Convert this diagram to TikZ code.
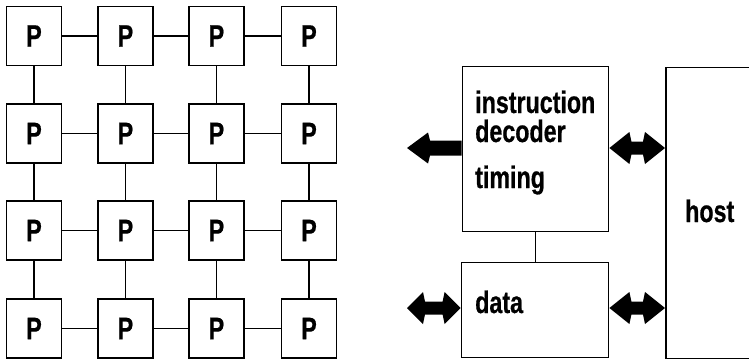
\documentclass[tikz,border=0pt]{standalone}
\usepackage{fontspec}
\setmainfont{Liberation Sans}[FakeStretch=0.75, BoldFeatures={FakeBold=0.6}]
\usetikzlibrary{calc}

% filled double-headed arrow from #1 (left) to #2 (right), head length #3
\newcommand\fatboth[3]{%
  \fill let \p1=#1, \p2=#2 in
    (\x1,\y1) -- (\x1+#3,\y1+16pt) -- (\x1+#3+2pt,\y1+6.5pt)
    -- (\x2-#3-2pt,\y1+6.5pt) -- (\x2-#3,\y1+16pt) -- (\x2,\y1)
    -- (\x2-#3,\y1-16pt) -- (\x2-#3-2pt,\y1-6.5pt)
    -- (\x1+#3+2pt,\y1-6.5pt) -- (\x1+#3,\y1-16pt) -- cycle;}

\begin{document}
\begin{tikzpicture}[x=1pt,y=-1pt,
  box/.style={draw, line width=1.8pt, rectangle, inner sep=0pt},
  pbox/.style={box, minimum width=55pt, minimum height=59pt,
    font=\fontsize{31}{31}\selectfont\bfseries},
  link/.style={line width=1.8pt},
  lbl/.style={anchor=base west, inner sep=0pt,
    font=\fontsize{31}{31}\selectfont\bfseries}]
\useasboundingbox (0,0) rectangle (749,362);

% processor array
\foreach \c/\x in {1/34,2/125.5,3/216.5,4/309}
  \foreach \r/\y in {1/36,2/133.5,3/230.5,4/328.5}
    \node[pbox] (p\r\c) at (\x,\y) {P};
\foreach \r in {1,...,4}
  \foreach \c/\n in {1/2,2/3,3/4}
    \draw[link] (p\r\c) -- (p\r\n);
\foreach \c in {1,...,4}
  \foreach \r/\n in {1/2,2/3,3/4}
    \draw[link] (p\r\c) -- (p\n\c);

% controller and host
\node[box, minimum width=146pt, minimum height=165pt] (instr) at (535.5,149) {};
\node[box, minimum width=147pt, minimum height=95pt] (data) at (535,310) {};
\node[box, minimum width=160pt, minimum height=291pt, anchor=north west] (host) at (665,66.5) {};
\draw[link] (instr.south) -- (instr.south |- data.north);

\node[lbl] (t1) at (475,113) {instruction};
\node[lbl] (t2) at (475,142) {decoder};
\node[lbl] (t3) at (475,188) {timing};
\node[lbl] (t4) at (475,313) {data};
\node[lbl] (t5) at (685,222) {host};

% broadcast arrow to the array
\coordinate (ctl) at (407,148);
\fill let \p1=(ctl), \p2=(instr.west |- ctl) in
  (\x1,\y1) -- (\x1+21pt,\y1+15.5pt) -- (\x1+23pt,\y1+7.5pt)
  -- (\x2,\y1+7.5pt) -- (\x2,\y1-7.5pt) -- (\x1+23pt,\y1-7.5pt)
  -- (\x1+21pt,\y1-15.5pt) -- cycle;

% data paths
\coordinate (din) at (407,308);
\fatboth{(instr.east |- ctl)}{(host.west |- ctl)}{20pt}
\fatboth{(din)}{([yshift=2pt]data.west)}{16pt}
\fatboth{([yshift=2pt]data.east)}{([yshift=2pt]data.east -| host.west)}{20pt}
\end{tikzpicture}
\end{document}
